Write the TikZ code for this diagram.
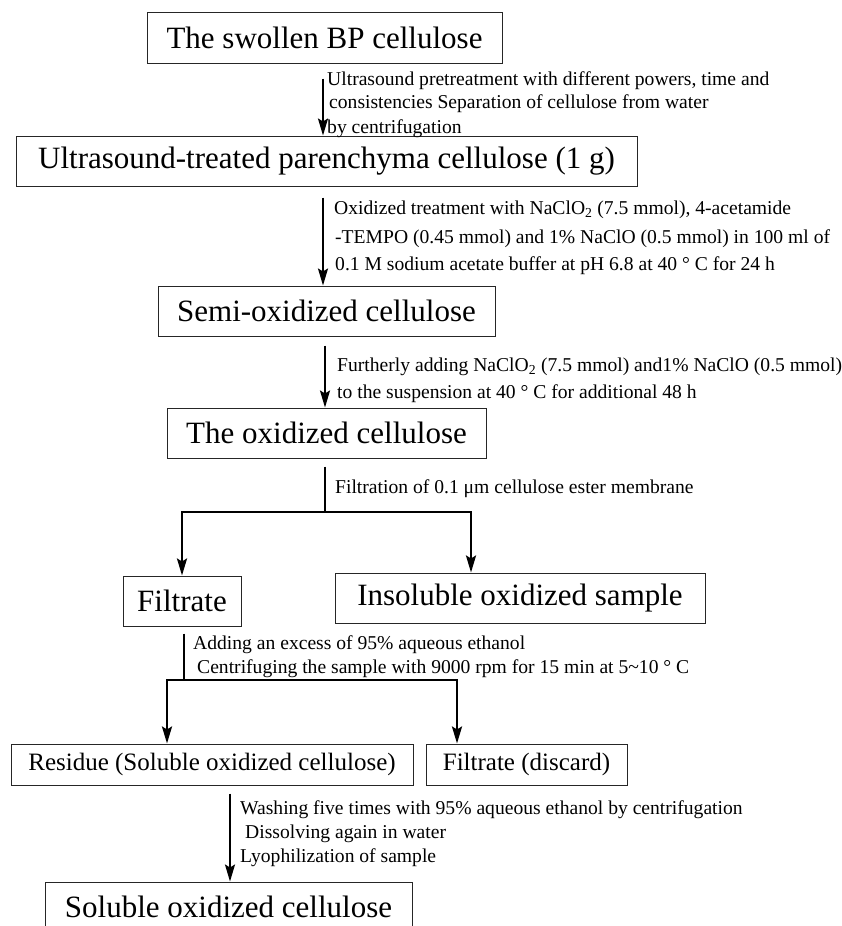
\documentclass[tikz,border=0pt]{standalone}
\usepackage{fontspec}
\setmainfont{Liberation Serif}
\usetikzlibrary{arrows.meta}

\tikzset{
  box/.style={draw=black!85, line width=1pt, inner sep=0pt, font=\fontsize{31}{36}\selectfont},
  smallbox/.style={box, font=\fontsize{25}{30}\selectfont},
  note/.style={anchor=base west, inner sep=0pt, font=\fontsize{19.6}{24}\selectfont},
  arr/.style={line width=2pt, -{Stealth[length=17pt,width=10pt,inset=3pt]}},
  forkarr/.style={line width=2.4pt, -{Stealth[length=17pt,width=10pt,inset=3pt]}},
  fork/.style={line width=2.4pt}
}

\begin{document}
\begin{tikzpicture}[x=1pt,y=-1pt]
\useasboundingbox (0,0) rectangle (841,926);

% main chain
\node[box, minimum width=355pt, minimum height=51pt] (swollen) at (324.5,37.5) {The swollen BP cellulose};
\node[box, minimum width=621pt, minimum height=50pt] (treated) at (326.5,161) {Ultrasound-treated parenchyma cellulose (1 g)};
\node[box, minimum width=337pt, minimum height=50pt] (semi) at (326.5,311) {Semi-oxidized cellulose};
\node[box, minimum width=319pt, minimum height=50pt] (oxid) at (326.5,433) {The oxidized cellulose};

% first split
\node[box, minimum width=118pt, minimum height=50pt] (filt) at (182,601) {Filtrate};
\node[box, minimum width=370pt, minimum height=50pt] (insol) at (520,598) {Insoluble oxidized sample};

% second split
\node[smallbox, minimum width=402pt, minimum height=41pt] (resid) at (212,764.5) {Residue (Soluble oxidized cellulose)};
\node[smallbox, minimum width=201pt, minimum height=41pt] (disc) at (526.5,764.5) {Filtrate (discard)};

\node[box, minimum width=367pt, minimum height=50pt] (soluble) at (228.5,907) {Soluble oxidized cellulose};

% arrow columns
\coordinate (c1) at (323,0);
\coordinate (c3) at (325,0);
\coordinate (k1) at (325,512);
\coordinate (r1) at (471,0);
\coordinate (k2) at (184,680);
\coordinate (l2) at (167,0);
\coordinate (r2) at (457,0);
\coordinate (c4) at (230,0);

\draw[arr] ([yshift=-15pt]swollen.south -| c1) -- (treated.north -| c1);
\draw[arr] ([yshift=-11pt]treated.south -| c1) -- (semi.north -| c1);
\draw[arr] ([yshift=-9pt]semi.south -| c3) -- (oxid.north -| c3);

\draw[fork] ([yshift=-8pt]oxid.south -| k1) -- (k1);
\draw[forkarr] (k1) -| (filt.north);
\draw[forkarr] (k1) -| (insol.north -| r1);

\draw[fork] ([yshift=-7pt]filt.south -| k2) -- (k2);
\draw[forkarr] (k2) -| (resid.north -| l2);
\draw[forkarr] (k2) -| (disc.north -| r2);

\draw[arr] ([yshift=-8pt]resid.south -| c4) -- (soluble.north -| c4);

% step notes
\node[note] (n1a) at (327,85) {Ultrasound pretreatment with different powers, time and};
\node[note] (n1b) at (329,108) {consistencies Separation of cellulose from water};
\node[note] (n1c) at (327,133) {by centrifugation};
\node[note] (n2a) at (334,214) {Oxidized treatment with NaClO\textsubscript{2} (7.5 mmol), 4-acetamide};
\node[note] (n2b) at (335,243) {-TEMPO (0.45 mmol) and 1\% NaClO (0.5 mmol) in 100 ml of};
\node[note] (n2c) at (335,270) {0.1 M sodium acetate buffer at pH 6.8 at 40 ° C for 24 h};
\node[note] (n3a) at (337,371) {Furtherly adding NaClO\textsubscript{2} (7.5 mmol) and1\% NaClO (0.5 mmol)};
\node[note] (n3b) at (337,398) {to the suspension at 40 ° C for additional 48 h};
\node[note] (n4) at (335,493) {Filtration of 0.1 μm cellulose ester membrane};
\node[note] (n5a) at (193,649) {Adding an excess of 95\% aqueous ethanol};
\node[note] (n5b) at (197,673) {Centrifuging the sample with 9000 rpm for 15 min at 5\textasciitilde10 ° C};
\node[note] (n6a) at (240,814) {Washing five times with 95\% aqueous ethanol by centrifugation};
\node[note] (n6b) at (245,838) {Dissolving again in water};
\node[note] (n6c) at (240,862) {Lyophilization of sample};
\end{tikzpicture}
\end{document}
